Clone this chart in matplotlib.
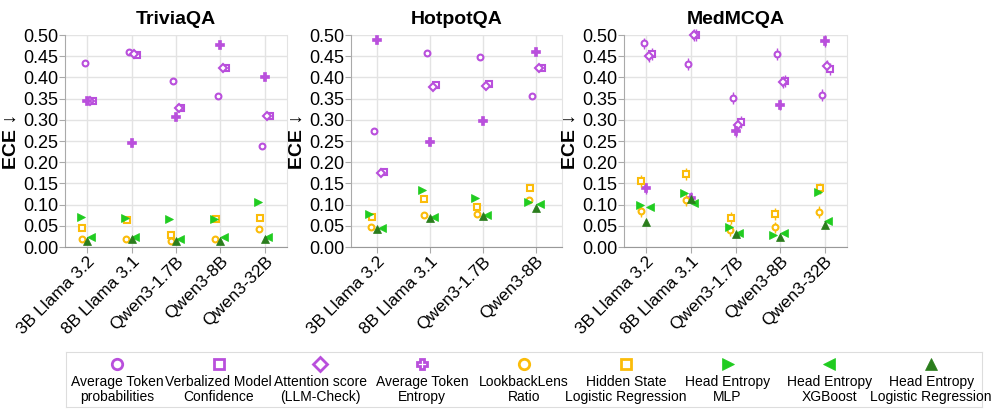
import numpy as np
import matplotlib
matplotlib.use("Agg")
import matplotlib.pyplot as plt

plt.rcParams['font.family'] = ['Liberation Sans', 'DejaVu Sans']

# modelos de cada dataset
models_full = ["3B Llama 3.2", "8B Llama 3.1", "Qwen3-1.7B", "Qwen3-8B", "Qwen3-32B"]
models_hotpot = ["3B Llama 3.2", "8B Llama 3.1", "Qwen3-1.7B", "Qwen3-8B"]

# TriviaQA
tq_avg_prob = [0.435, 0.461, 0.392, 0.355, 0.239]
tq_verbal = [0.344, 0.453, 0.329, 0.421, 0.308]
tq_attn = [0.345, 0.455, 0.329, 0.421, 0.308]
tq_entropy = [0.344, 0.246, 0.307, 0.476, 0.401]
tq_lookback = [0.018, 0.018, 0.013, 0.019, 0.042]
tq_hidden = [0.045, 0.063, 0.028, 0.065, 0.068]
tq_mlp = [0.071, 0.068, 0.067, 0.065, 0.105]
tq_xgb = [0.024, 0.024, 0.019, 0.024, 0.024]
tq_lr = [0.015, 0.018, 0.015, 0.015, 0.018]

# HotpotQA
hq_avg_prob = [0.273, 0.458, 0.448, 0.355]
hq_verbal = [0.176, 0.381, 0.384, 0.421]
hq_attn = [0.175, 0.377, 0.380, 0.421]
hq_entropy = [0.489, 0.247, 0.298, 0.461]
hq_lookback = [0.046, 0.075, 0.079, 0.111]
hq_hidden = [0.071, 0.114, 0.094, 0.139]
hq_mlp = [0.079, 0.135, 0.115, 0.107]
hq_xgb = [0.045, 0.070, 0.075, 0.101]
hq_lr = [0.042, 0.068, 0.073, 0.091]

# MedMCQA
mq_avg_prob = [0.480, 0.432, 0.351, 0.455, 0.358]
mq_verbal = [0.455, 0.499, 0.294, 0.392, 0.419]
mq_attn = [0.451, 0.499, 0.288, 0.389, 0.427]
mq_entropy = [0.138, 0.116, 0.274, 0.336, 0.485]
mq_lookback = [0.084, 0.111, 0.041, 0.046, 0.083]
mq_hidden = [0.156, 0.172, 0.069, 0.077, 0.138]
mq_mlp = [0.098, 0.128, 0.046, 0.028, 0.129]
mq_xgb = [0.095, 0.103, 0.033, 0.032, 0.061]
mq_lr = [0.060, 0.113, 0.030, 0.024, 0.052]

# erro (barra vertical) por dataset
tq_err = 0.004
hq_err = 0.005
mq_err = 0.014

PURPLE = "#b94fdc"
ORANGE = "#fbbc0a"
GREEN = "#20cc20"
DKGREEN = "#2a7d1c"

labels = ["Average Token\nprobabilities", "Verbalized Model\nConfidence",
          "Attention score\n(LLM-Check)", "Average Token\nEntropy",
          "LookbackLens\nRatio", "Hidden State\nLogistic Regression",
          "Head Entropy\nMLP", "Head Entropy\nXGBoost",
          "Head Entropy\nLogistic Regression"]
# marcador, cor, vazado?, deslocamento em x
styles = [("o", PURPLE, True, -0.06), ("s", PURPLE, True, 0.12),
          ("D", PURPLE, True, 0.06), ("P", PURPLE, True, 0.0),
          ("o", ORANGE, True, -0.12), ("s", ORANGE, True, -0.11),
          (">", GREEN, False, -0.15), ("<", GREEN, False, 0.08),
          ("^", DKGREEN, False, 0.0)]

datasets = [
    ("TriviaQA", models_full, [tq_avg_prob, tq_verbal, tq_attn, tq_entropy, tq_lookback,
                               tq_hidden, tq_mlp, tq_xgb, tq_lr], tq_err),
    ("HotpotQA", models_hotpot, [hq_avg_prob, hq_verbal, hq_attn, hq_entropy, hq_lookback,
                                 hq_hidden, hq_mlp, hq_xgb, hq_lr], hq_err),
    ("MedMCQA", models_full, [mq_avg_prob, mq_verbal, mq_attn, mq_entropy, mq_lookback,
                              mq_hidden, mq_mlp, mq_xgb, mq_lr], mq_err),
]

W, H = 996, 411
fig = plt.figure(figsize=(W / 100, H / 100), dpi=100)

# posições dos eixos em pixels (esq, largura)
ax_pos = [(65, 222), (351, 211), (624, 223)]
top, bottom = 35, 247

for (name, models, series, err), (left, width) in zip(datasets, ax_pos):
    ax = fig.add_axes([left / W, (H - bottom) / H, width / W, (bottom - top) / H])
    x = np.arange(len(models))
    for i, (vals, (mk, col, hollow, off)) in enumerate(zip(series, styles)):
        e = err if i < 6 else 0
        if mk == "P":
            # no gráfico a cruz fica cheia, parece um ponto
            size, face, mew = 5.5, col, 1.2
        elif hollow:
            size, face, mew = 4.2, "white", 1.5
        else:
            size, face, mew = 6, col, 0.5
        ax.errorbar(x + off, vals, yerr=e, fmt=mk, color=col, ecolor=col, elinewidth=1,
                    markersize=size, markeredgewidth=mew,
                    markerfacecolor=face, markeredgecolor=col,
                    clip_on=False, zorder=3 + i * 0.1)
    ax.set_xlim(-0.5, len(models) - 0.5)
    ax.set_ylim(0, 0.5)
    ax.set_yticks(np.arange(0, 0.501, 0.05))
    ax.set_yticklabels([f"{v:.2f}" for v in np.arange(0, 0.501, 0.05)])
    ax.set_xticks(x)
    ax.set_xticklabels(models, rotation=45, ha="right", rotation_mode="anchor")
    ax.tick_params(axis="y", labelsize=13, color="#aaaaaa", length=4, pad=1)
    ax.tick_params(axis="x", labelsize=12.5, color="#aaaaaa", length=4, pad=1)
    ax.grid(True, color="#e3e3e3", linewidth=1)
    ax.set_axisbelow(True)
    ax.spines["top"].set_visible(False)
    ax.spines["left"].set_color("#aaaaaa")
    ax.spines["bottom"].set_color("#999999")
    ax.spines["right"].set_color("#e3e3e3")
    ax.set_title(name, fontsize=14, fontweight="bold", pad=8)
    ax.set_ylabel("ECE ↓", fontsize=14, fontweight="bold", labelpad=2)

# legenda em caixa, marcador em cima do texto
lax = fig.add_axes([66 / W, 4 / H, 916 / W, 55 / H])
lax.set_xlim(0, 9)
lax.set_ylim(0, 1)
lax.set_xticks([])
lax.set_yticks([])
for s in lax.spines.values():
    s.set_color("#dddddd")
for i, (lab, (mk, col, hollow, off)) in enumerate(zip(labels, styles)):
    lax.plot(i + 0.5, 0.78, mk, color=col, markersize=7.5 if hollow else 9,
             markeredgewidth=2 if hollow else 0.5,
             markerfacecolor="white" if hollow else col)
    lax.text(i + 0.5, 0.32, lab, ha="center", va="center", multialignment="center",
             fontsize=10, linespacing=1.05)

fig.savefig("out.png", dpi=100)
